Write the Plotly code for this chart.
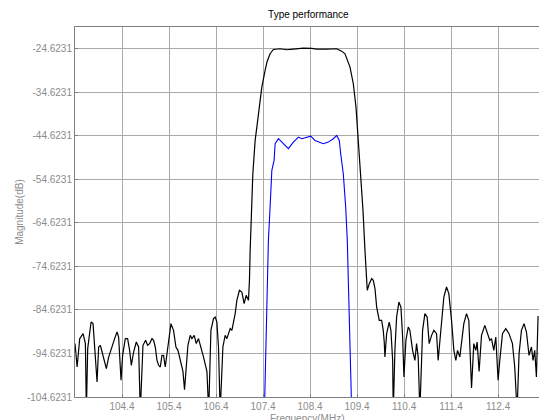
import plotly.graph_objects as go

# Frequency (MHz) and magnitude (dB)
black_freq = [103.40, 103.445, 103.50, 103.572, 103.621, 103.642, 103.67, 103.742, 103.784, 103.833,
              103.869, 103.903, 103.94, 103.976, 104.024, 104.067, 104.116, 104.188, 104.243, 104.294,
              104.328, 104.379, 104.413, 104.47, 104.519, 104.562, 104.598, 104.647, 104.704, 104.753,
              104.789, 104.846, 104.902, 104.944, 104.987, 105.038, 105.072, 105.108, 105.144, 105.178,
              105.214, 105.25, 105.284, 105.32, 105.356, 105.39, 105.441, 105.496, 105.547, 105.59,
              105.639, 105.696, 105.73, 105.766, 105.802, 105.851, 105.887, 105.936, 105.979, 106.027,
              106.085, 106.134, 106.206, 106.244, 106.291, 106.346, 106.382, 106.418, 106.452, 106.488,
              106.546, 106.594, 106.631, 106.701, 106.737, 106.807, 106.843, 106.898, 106.949, 106.998,
              107.041, 107.09, 107.111, 107.126, 107.183, 107.232, 107.268, 107.323, 107.374, 107.444,
              107.487, 107.55, 107.62, 107.763, 107.905, 108.045, 108.258, 108.436, 108.542, 108.755,
              108.967, 109.073, 109.143, 109.25, 109.32, 109.377, 109.405, 109.426, 109.447, 109.526,
              109.568, 109.589, 109.617, 109.66, 109.71, 109.745, 109.781, 109.817, 109.872, 109.923,
              109.957, 109.978, 109.993, 110.029, 110.084, 110.12, 110.157, 110.17, 110.205, 110.241,
              110.29, 110.333, 110.369, 110.397, 110.439, 110.488, 110.524, 110.581, 110.63, 110.666,
              110.70, 110.736, 110.794, 110.843, 110.891, 110.934, 110.985, 111.034, 111.091, 111.125,
              111.197, 111.246, 111.303, 111.352, 111.41, 111.459, 111.501, 111.537, 111.586, 111.622,
              111.671, 111.728, 111.777, 111.835, 111.883, 111.926, 111.954, 111.996, 112.047, 112.117,
              112.166, 112.223, 112.259, 112.308, 112.351, 112.40, 112.436, 112.493, 112.563, 112.633,
              112.705, 112.754, 112.803, 112.846, 112.897, 112.952, 113.003, 113.058, 113.109, 113.143,
              113.179, 113.215, 113.25]
black_db = [-92.36, -97.73, -91.21, -90.07, -92.36, -108.0, -93.51, -87.40, -87.77, -96.95,
            -101.18, -93.14, -92.75, -94.29, -96.59, -98.10, -95.44, -92.75, -91.21, -89.70,
            -90.85, -100.79, -95.05, -91.21, -91.21, -93.90, -97.34, -94.29, -91.99, -93.14,
            -108.0, -92.75, -91.60, -92.75, -92.36, -91.21, -91.60, -93.14, -96.20, -97.34,
            -97.73, -95.05, -95.05, -97.73, -94.66, -91.60, -87.77, -89.31, -93.14, -93.90,
            -96.20, -98.75, -102.92, -96.95, -92.75, -90.46, -91.21, -90.46, -92.36, -91.21,
            -93.90, -95.44, -98.75, -108.0, -89.31, -86.62, -86.25, -87.40, -93.14, -108.0,
            -93.14, -90.46, -91.21, -88.92, -89.31, -85.47, -82.42, -80.12, -80.51, -83.18,
            -81.27, -82.42, -77.83, -70.94, -53.32, -45.68, -42.62, -38.03, -33.44, -29.60,
            -27.54, -25.77, -24.78, -24.62, -24.85, -24.71, -24.48, -24.55, -24.71, -24.71,
            -24.62, -25.17, -25.77, -28.85, -32.66, -38.03, -42.62, -45.68, -47.97, -61.75,
            -70.94, -75.53, -80.12, -78.58, -77.43, -77.83, -79.73, -83.96, -87.01, -87.01,
            -89.31, -91.99, -95.44, -90.07, -87.40, -89.31, -96.20, -108.0, -93.90, -86.25,
            -82.81, -83.96, -90.85, -100.03, -91.60, -88.55, -89.31, -93.90, -96.20, -92.36,
            -95.44, -108.0, -89.31, -85.47, -86.25, -92.36, -90.46, -89.31, -90.07, -96.20,
            -87.77, -81.66, -79.36, -80.88, -87.01, -93.90, -96.20, -93.90, -95.44, -91.60,
            -87.77, -85.47, -87.01, -102.55, -92.36, -93.90, -91.99, -98.75, -90.46, -88.16,
            -89.70, -91.60, -91.21, -93.90, -90.85, -100.79, -96.20, -90.07, -88.92, -90.07,
            -92.36, -97.73, -108.0, -94.66, -89.31, -87.77, -89.70, -95.05, -93.14, -96.20,
            -93.90, -100.03, -86.0]

blue_freq = [107.429, 107.48, 107.493, 107.514, 107.55, 107.587, 107.635, 107.657, 107.727, 107.833,
             107.939, 108.045, 108.152, 108.224, 108.33, 108.415, 108.506, 108.612, 108.683, 108.789,
             108.895, 108.967, 109.022, 109.052, 109.107, 109.158, 109.192, 109.214, 109.228, 109.26,
             109.286]
blue_db = [-108.0, -83.96, -77.83, -68.64, -60.99, -52.57, -50.27, -46.43, -45.29, -46.43,
           -47.58, -46.07, -44.92, -45.29, -44.92, -44.69, -45.68, -46.07, -46.43, -46.07,
           -45.29, -44.53, -45.68, -48.73, -53.32, -60.99, -68.64, -77.83, -84.53, -96.20,
           -108.0]

x_ticks = [104.4, 105.4, 106.4, 107.4, 108.4, 109.4, 110.4, 111.4, 112.4, 113.4]
y_ticks = [-24.6231, -34.6231, -44.6231, -54.6231, -64.6231, -74.6231, -84.6231, -94.6231, -104.6231]

FONT = "Liberation Sans, Arial, sans-serif"
GRID = "#a9a9a9"
LABEL = "#8c8c8c"

fig = go.Figure()
fig.add_trace(go.Scatter(x=black_freq, y=black_db, mode="lines",
                         line=dict(color="#000000", width=1.2), showlegend=False))
fig.add_trace(go.Scatter(x=blue_freq, y=blue_db, mode="lines",
                         line=dict(color="#0000ff", width=1.1), showlegend=False))

fig.update_layout(
    width=539, height=420,
    margin=dict(l=75, r=0, t=27, b=23),
    paper_bgcolor="white", plot_bgcolor="white",
    font=dict(family=FONT, size=10, color=LABEL),
    title=dict(text="Type performance", x=0.503, xref="paper", xanchor="center",
               y=1 - 14 / 420, yref="container", yanchor="middle",
               font=dict(family=FONT, size=10, color="#000000")),
    annotations=[
        dict(text="Frequency(MHz)", xref="paper", yref="paper", x=0.5, y=-0.057,
             xanchor="center", yanchor="middle", showarrow=False,
             font=dict(family=FONT, size=10, color=LABEL)),
        dict(text="Magnitude(dB)", xref="paper", yref="paper", x=-0.121, y=0.5,
             xanchor="center", yanchor="middle", textangle=-90, showarrow=False,
             font=dict(family=FONT, size=10, color=LABEL)),
    ],
)
fig.update_xaxes(
    range=[103.4, 113.27], tickvals=x_ticks, ticktext=[f"{v:.1f}" for v in x_ticks],
    showgrid=True, gridcolor=GRID, gridwidth=1, zeroline=False,
    showline=True, linecolor="#7f7f7f", linewidth=1, mirror=True,
    ticks="inside", ticklen=3, tickcolor="#7f7f7f",
    tickfont=dict(family=FONT, size=10, color=LABEL),
)
fig.update_yaxes(
    range=[-104.6231, -19.6231], tickvals=y_ticks, ticktext=[f"{v:.4f}" for v in y_ticks],
    showgrid=True, gridcolor=GRID, gridwidth=1, zeroline=False,
    showline=True, linecolor="#7f7f7f", linewidth=1,
    ticks="inside", ticklen=3, tickcolor="#7f7f7f",
    tickfont=dict(family=FONT, size=10, color=LABEL),
)

fig.write_html("out.html", config={"displayModeBar": False},
               post_script="document.body.style.margin='0px';")
